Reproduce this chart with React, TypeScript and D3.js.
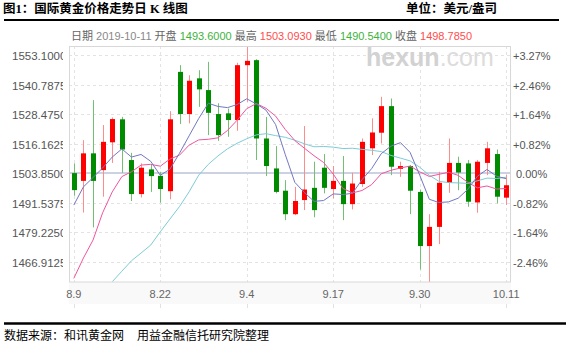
import React from "react";
import * as d3 from "d3";

const dates = ["8.9","8.12","8.13","8.14","8.15","8.16","8.19","8.20","8.21","8.22","8.23","8.26","8.27","8.28","8.29","8.30","9.2","9.3","9.4","9.5","9.6","9.9","9.10","9.11","9.12","9.13","9.16","9.17","9.18","9.19","9.20","9.23","9.24","9.25","9.26","9.27","9.30","10.1","10.2","10.3","10.4","10.7","10.8","10.9","10.10","10.11"];
const opens = [1503.85,1500.6,1512.1,1505.1,1516.7,1526.3,1509.3,1495.1,1505.4,1502.7,1496.3,1546.1,1528.5,1543.4,1538.5,1528.5,1528.8,1526.0,1548.9,1551.0,1518.3,1505.8,1496.5,1486.7,1492.6,1497.7,1506.1,1497.2,1500.6,1490.9,1499.3,1514.2,1520.7,1531.8,1505.6,1506.8,1496.0,1473.4,1481.4,1499.8,1508.1,1507.9,1491.6,1508.1,1511.8,1493.6];
const highs = [1507.9,1517.6,1534.3,1523.9,1527.1,1527.3,1512.3,1507.9,1507.5,1504.4,1529.7,1548.9,1544.7,1546.8,1550.3,1533.0,1530.8,1549.9,1556.9,1551.4,1527.3,1515.1,1500.9,1498.1,1523.5,1508.6,1511.8,1506.8,1511.0,1504.0,1518.3,1526.7,1535.7,1535.0,1508.6,1507.2,1497.0,1486.7,1504.4,1518.3,1510.7,1509.3,1509.3,1516.9,1513.7,1503.093];
const lows = [1494.4,1487.4,1481.2,1494.0,1508.1,1504.0,1492.2,1493.7,1496.0,1491.5,1492.9,1524.3,1524.6,1531.5,1519.7,1517.3,1519.0,1521.5,1533.6,1509.3,1502.6,1495.4,1484.2,1486.3,1488.4,1485.4,1495.4,1493.3,1484.2,1488.7,1498.1,1511.4,1516.2,1503.0,1502.3,1486.7,1463.6,1458.4,1474.2,1495.6,1496.7,1489.8,1487.3,1503.0,1491.2,1490.54];
const closes = [1496.75,1512.1,1500.6,1516.9,1526.4,1513.7,1495.1,1506.1,1502.6,1497.2,1526.3,1528.5,1542.4,1538.8,1529.0,1519.7,1526.0,1548.9,1550.7,1518.3,1506.8,1496.0,1486.7,1492.2,1497.0,1488.4,1497.7,1500.6,1490.9,1499.5,1516.9,1520.8,1531.8,1506.5,1506.8,1496.5,1473.4,1481.4,1499.8,1508.1,1504.1,1491.9,1508.6,1514.2,1494.0,1498.785];

// moving-average values before a full window is available
const ma5Lead = [1490.5, 1498.1, 1502.0, 1506.0];
const ma10Lead = [1459.9, 1468.4, 1475.9, 1487.3, 1496.0, 1502.4, 1504.4, 1507.2, 1507.5];
const ma20Lead = [null, null, null, null, 1458.5, 1462.9, 1467.25, 1470.5, 1473.8, 1479.35, 1484.65, 1489.9, 1496.05, 1503.0, 1507.5, 1511.0, 1514.0, 1516.3, 1518.2];

const yTickValues = [1553.1, 1540.7875, 1528.475, 1516.1625, 1503.85, 1491.5375, 1479.225, 1466.9125];
const yTickLabels = ["1553.1000","1540.7875","1528.4750","1516.1625","1503.8500","1491.5375","1479.2250","1466.9125"];
const pctLabels = ["+3.27%","+2.46%","+1.64%","+0.82%","0.00%","-0.82%","-1.64%","-2.46%"];
const xTickLabels = ["8.9","8.22","9.4","9.17","9.30","10.11"];
const baseValue = 1503.85;
const lastDate = "2019-10-11";

const W = 566, H = 346;
const PL = 69, PR = 511, PT = 46, PB = 282;

const RED = "#ff0000";
const GREEN = "#008a00";
const RED_WICK = "#ff8c8c";
const GREEN_WICK = "#72c072";

function movingAvg(vals: number[], n: number, lead: (number | null)[]) {
  return vals.map((_, i) => (i < n - 1 ? lead[i] : (d3.mean(vals.slice(i - n + 1, i + 1)) as number)));
}

export default function App() {
  const n = dates.length;
  const x = d3.scaleBand<number>().domain(d3.range(n)).range([PL, PR]).padding(0);
  const bw = x.bandwidth();
  const cx = (i: number) => (x(i) as number) + bw / 2;
  const y = d3.scaleLinear().domain([d3.min(lows) as number, d3.max(highs) as number]).range([PB, PT]);

  const ma5 = movingAvg(closes, 5, ma5Lead);
  const ma10 = movingAvg(closes, 10, ma10Lead);
  const ma20 = movingAvg(closes, 20, ma20Lead);

  const lineGen = d3
    .line<number | null>()
    .defined((d) => d !== null && d !== undefined)
    .x((_, i) => cx(i))
    .y((d) => y(d as number));

  const last = n - 1;
  const prevClose = closes[last - 1];
  const colorOf = (v: number) => (v >= prevClose ? "#ff4d4d" : "#3cb33c");

  const sans = "'Liberation Sans', Arial, 'Noto Sans CJK SC', sans-serif";
  const cjk = "'Liberation Sans', 'Noto Sans CJK SC', sans-serif";

  const xTickIdx = xTickLabels.map((l) => dates.indexOf(l));

  return (
    <svg width={W} height={H} style={{ position: "absolute", left: 0, top: 0, background: "#fff" }}>
      <defs>
        <clipPath id="plotClip">
          <rect x={PL} y={PT} width={PR - PL} height={PB - PT} />
        </clipPath>
        <clipPath id="leftLabClip">
          <rect x={0} y={PT - 5} width={63} height={PB - PT + 10} />
        </clipPath>
      </defs>

      {/* title */}
      <text x={3} y={13} fontSize={12.5} fontWeight="bold" fill="#000" fontFamily="'Liberation Serif', 'Noto Sans CJK SC', serif">
        图1：国际黄金价格走势日 K 线图
      </text>
      <text x={406} y={13} fontSize={12.5} fontWeight="bold" fill="#000" fontFamily="'Liberation Serif', 'Noto Sans CJK SC', serif">
        单位：美元/盎司
      </text>
      <line x1={4} x2={559} y1={20} y2={20} stroke="#000" strokeWidth={2} />

      {/* info line */}
      <text x={71} y={40} fontSize={11} fontFamily={cjk}>
        <tspan fill="#666">日期 </tspan>
        <tspan fill="#888">{lastDate} </tspan>
        <tspan fill="#666">开盘 </tspan>
        <tspan fill={colorOf(opens[last])}>{opens[last].toFixed(4)} </tspan>
        <tspan fill="#666">最高 </tspan>
        <tspan fill={colorOf(highs[last])}>{highs[last].toFixed(4)} </tspan>
        <tspan fill="#666">最低 </tspan>
        <tspan fill={colorOf(lows[last])}>{lows[last].toFixed(4)} </tspan>
        <tspan fill="#666">收盘 </tspan>
        <tspan fill={colorOf(closes[last])}>{closes[last].toFixed(4)}</tspan>
      </text>

      {/* x label band */}
      <rect x={PL} y={PB} width={PR - PL} height={22} fill="#f9f9f9" />

      {/* grid */}
      {yTickValues.map((v, i) => (
        <line key={"hg" + i} x1={PL} x2={PR} y1={Math.round(y(v)) + 0.5} y2={Math.round(y(v)) + 0.5} stroke="#e3e3e3" strokeDasharray="3,3" />
      ))}
      {xTickIdx.map((idx, i) => (
        <line key={"vg" + i} x1={Math.round(cx(idx)) + 0.5} x2={Math.round(cx(idx)) + 0.5} y1={PT} y2={PB} stroke="#e3e3e3" strokeDasharray="3,3" />
      ))}
      {/* base line */}
      <line x1={PL} x2={PR} y1={y(baseValue)} y2={y(baseValue)} stroke="#cdd2e3" strokeWidth={2} />

      {/* watermark */}
      <text x={366} y={66} fontSize={25} fontFamily={sans}>
        <tspan fill="#d2d2d2" fontWeight="bold">hexun</tspan>
        <tspan fill="#dcdcdc">.com</tspan>
      </text>

      {/* candles */}
      <g clipPath="url(#plotClip)">
        {dates.map((d, i) => {
          const up = closes[i] >= opens[i];
          const c = Math.round(cx(i));
          const top = y(Math.max(opens[i], closes[i]));
          const bot = y(Math.min(opens[i], closes[i]));
          return (
            <g key={d}>
              <line x1={c + 0.5} x2={c + 0.5} y1={y(highs[i])} y2={y(lows[i])} stroke={up ? RED_WICK : GREEN_WICK} strokeWidth={1} />
              <rect x={c - 2} y={top} width={5} height={Math.max(1, bot - top)} fill={up ? RED : GREEN} />
            </g>
          );
        })}
        <path d={lineGen(ma20) || ""} fill="none" stroke="#7dccd6" strokeWidth={1} />
        <path d={lineGen(ma10) || ""} fill="none" stroke="#f0559f" strokeWidth={1} />
        <path d={lineGen(ma5) || ""} fill="none" stroke="#7377c2" strokeWidth={1} />
      </g>

      {/* frame */}
      <rect x={PL + 0.5} y={PT + 0.5} width={PR - PL - 1} height={PB - PT - 0.5} fill="none" stroke="#d8d8d8" />

      {/* left axis labels */}
      <g clipPath="url(#leftLabClip)">
        {yTickValues.map((v, i) => (
          <text key={"yl" + i} x={12} y={y(v) + 1} dominantBaseline="central" fontSize={11.5} fill="#555" fontFamily={sans}>
            {yTickLabels[i]}
          </text>
        ))}
      </g>
      {/* right axis labels */}
      {yTickValues.map((v, i) => (
        <text key={"yr" + i} x={/^[+-]/.test(pctLabels[i]) ? 513 : 516} y={y(v) + 1} dominantBaseline="central" fontSize={11} fill="#555" fontFamily={sans}>
          {pctLabels[i]}
        </text>
      ))}

      {/* x labels */}
      {xTickIdx.map((idx, i) => (
        <g key={"xl" + i}>
          <text x={cx(idx)} y={294} textAnchor="middle" dominantBaseline="central" fontSize={11} fill="#666" fontFamily={sans}>
            {xTickLabels[i]}
          </text>
          <line x1={Math.round(cx(idx)) + 0.5} x2={Math.round(cx(idx)) + 0.5} y1={304} y2={308} stroke="#e2e2e2" />
        </g>
      ))}

      {/* footer */}
      <line x1={4} x2={566} y1={323.5} y2={323.5} stroke="#000" strokeWidth={2.5} />
      <text x={4} y={340} fontSize={12} fill="#000" fontFamily="'Noto Sans CJK SC', sans-serif">数据来源：和讯黄金网</text>
      <text x={137} y={340} fontSize={12} fill="#000" fontFamily="'Noto Sans CJK SC', sans-serif">用益金融信托研究院整理</text>
    </svg>
  );
}
